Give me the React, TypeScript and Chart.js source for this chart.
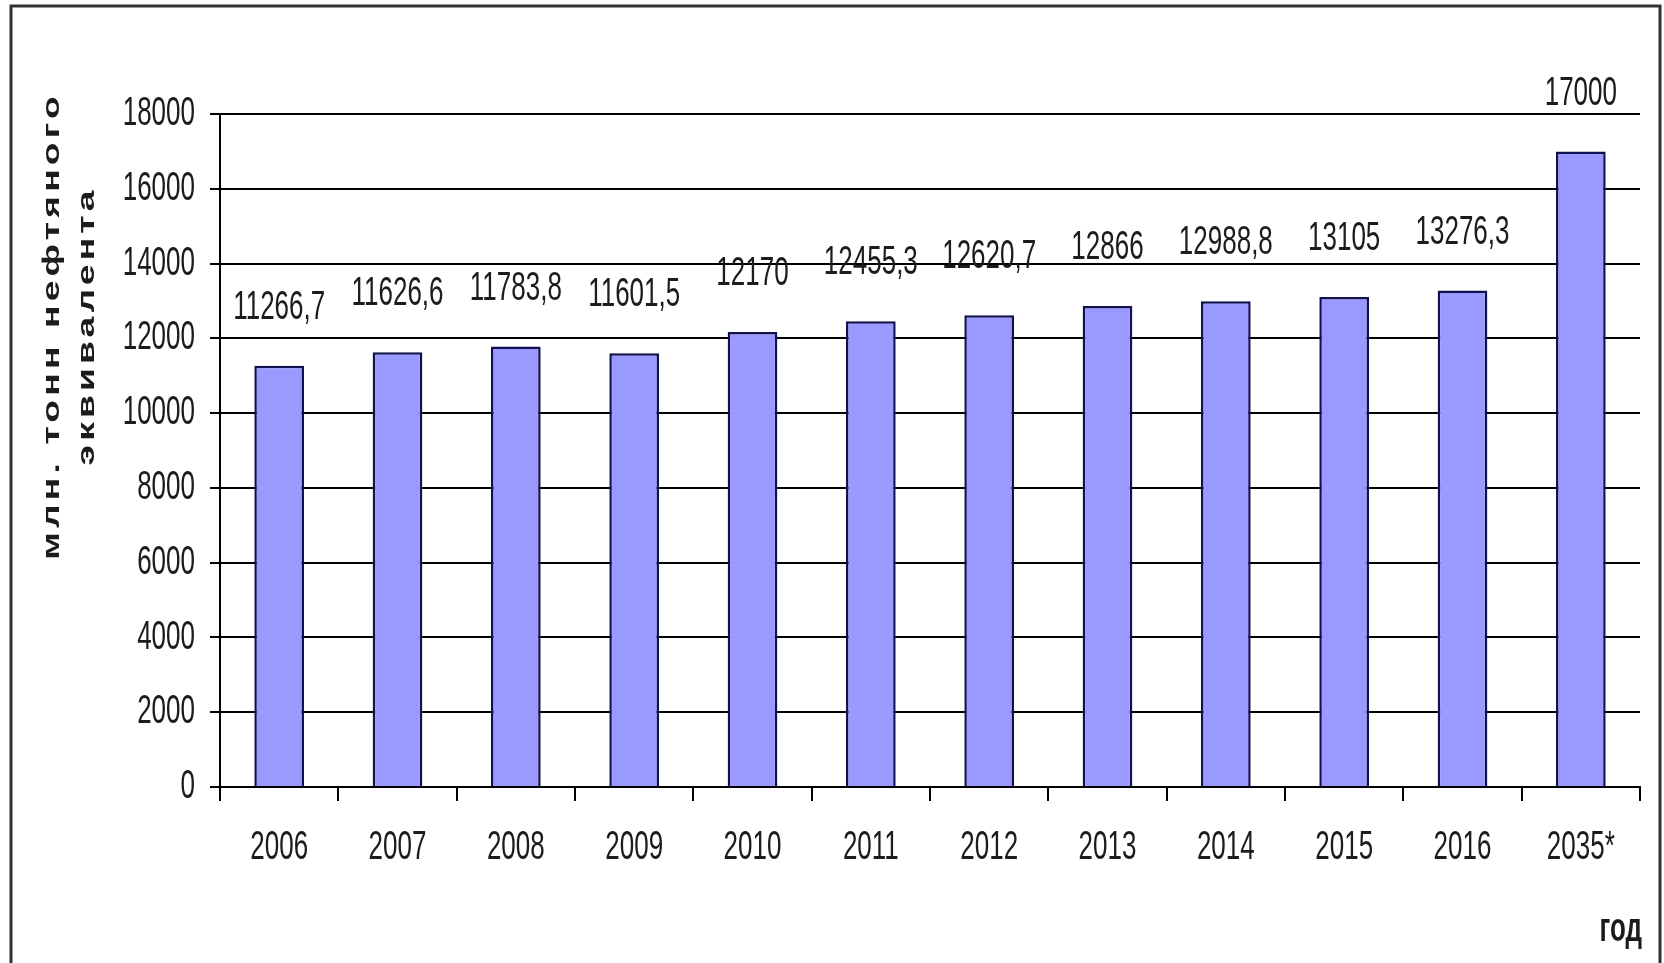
import React, { useEffect, useRef } from "react";
import { Chart, registerables } from "chart.js";

Chart.register(...registerables);

const categories = ["2006", "2007", "2008", "2009", "2010", "2011", "2012", "2013", "2014", "2015", "2016", "2035*"];
const values = [11266.7, 11626.6, 11783.8, 11601.5, 12170, 12455.3, 12620.7, 12866, 12988.8, 13105, 13276.3, 17000];
const yTickValues = [0, 2000, 4000, 6000, 8000, 10000, 12000, 14000, 16000, 18000];
const yTitleLines = ["млн. тонн нефтяного", "эквивалента"];
const xTitle = "год";

const FONT = '"Liberation Sans", Arial, sans-serif';
const TEXT_COLOR = "#1c1c1c";
const STRETCH = 1.55;

function fmt(v: number): string {
  return String(v).replace(".", ",");
}

function drawStretched(
  ctx: CanvasRenderingContext2D,
  text: string,
  x: number,
  y: number,
  align: CanvasTextAlign,
  font: string,
  sy: number
) {
  ctx.save();
  ctx.translate(x, y);
  ctx.scale(1, sy);
  ctx.font = font;
  ctx.textAlign = align;
  ctx.textBaseline = "middle";
  ctx.fillText(text, 0, 0);
  ctx.restore();
}

const textPlugin = {
  id: "stretchedText",
  afterDraw(chart: any) {
    const { ctx, chartArea, scales } = chart;
    const xs = scales.x;
    const ys = scales.y;
    ctx.save();
    ctx.fillStyle = TEXT_COLOR;

    // y tick labels
    ys.ticks.forEach((t: any) => {
      const y = ys.getPixelForValue(t.value);
      drawStretched(ctx, String(t.value), chartArea.left - 25, y, "right", `26px ${FONT}`, STRETCH);
    });

    // x tick labels
    categories.forEach((c, i) => {
      drawStretched(ctx, c, xs.getPixelForValue(i), chartArea.bottom + 61, "center", `26px ${FONT}`, STRETCH);
    });

    // value labels
    const meta = chart.getDatasetMeta(0);
    meta.data.forEach((bar: any, i: number) => {
      drawStretched(ctx, fmt(values[i]), bar.x, bar.y - 58, "center", `26px ${FONT}`, STRETCH);
    });

    // x axis title
    drawStretched(ctx, xTitle, chartArea.right + 2, chartArea.bottom + 143, "right", `bold 26px ${FONT}`, STRETCH);

    // y axis title (two rotated lines)
    const cy = chartArea.top + (chartArea.bottom - chartArea.top) * 0.315;
    const lineX = [52, 87];
    yTitleLines.forEach((line, i) => {
      ctx.save();
      ctx.translate(lineX[i], cy);
      ctx.rotate(-Math.PI / 2);
      ctx.scale(STRETCH, 1);
      ctx.font = `bold 24px ${FONT}`;
      (ctx as any).letterSpacing = "2.7px";
      ctx.textAlign = "center";
      ctx.textBaseline = "middle";
      ctx.fillText(line, 0, 0);
      ctx.restore();
    });

    // outer frame
    ctx.strokeStyle = "#333333";
    ctx.lineWidth = 3;
    ctx.strokeRect(11, 6, 1649, 990);
    ctx.restore();
  },
};

export default function App() {
  const canvasRef = useRef<HTMLCanvasElement | null>(null);

  useEffect(() => {
    if (!canvasRef.current) return;
    const chart = new Chart(canvasRef.current, {
      type: "bar",
      data: {
        labels: categories,
        datasets: [
          {
            data: values,
            backgroundColor: "#9999ff",
            borderColor: "#10104e",
            borderWidth: 2.5,
            barPercentage: 0.42,
            categoryPercentage: 1,
          },
        ],
      },
      options: {
        animation: false,
        responsive: true,
        maintainAspectRatio: false,
        layout: { padding: { top: 114, right: 24, left: 0, bottom: 0 } },
        plugins: {
          legend: { display: false },
          tooltip: { enabled: false },
        },
        scales: {
          x: {
            grid: {
              drawOnChartArea: false,
              drawTicks: true,
              tickLength: 14,
              color: "#000",
              lineWidth: 2,
              offset: true,
            },
            border: { color: "#000", width: 2 },
            ticks: { display: false },
            afterFit: (s: any) => {
              s.height = 176;
            },
          },
          y: {
            min: yTickValues[0],
            max: yTickValues[yTickValues.length - 1],
            grid: { color: "#000", lineWidth: 2, tickLength: 10 },
            border: { color: "#000", width: 2 },
            ticks: { display: false },
            afterBuildTicks: (s: any) => {
              s.ticks = yTickValues.map((v) => ({ value: v }));
            },
            afterFit: (s: any) => {
              s.width = 220;
            },
          },
        },
      } as any,
      plugins: [textPlugin],
    });
    return () => chart.destroy();
  }, []);

  return (
    <div
      style={{
        position: "fixed",
        left: 0,
        top: 0,
        width: 1664,
        height: 963,
        background: "#ffffff",
      }}
    >
      <canvas ref={canvasRef} style={{ display: "block" }} />
    </div>
  );
}
